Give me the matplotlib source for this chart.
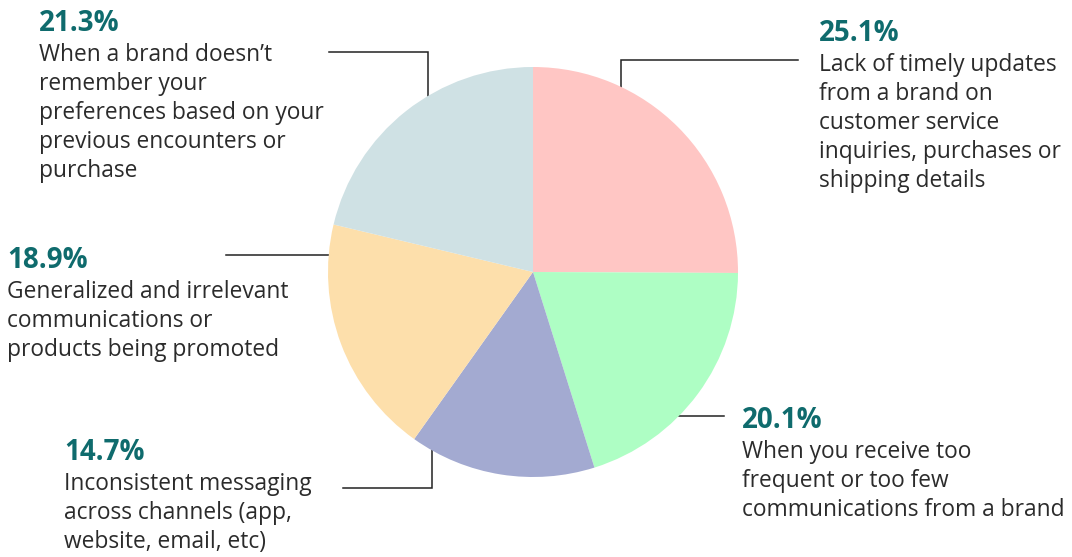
import numpy as np
import matplotlib.pyplot as plt

# Survey results: what frustrates customers most about brand communication
shares = [25.1, 20.1, 14.7, 18.9, 21.3]
pct_labels = ["25.1%", "20.1%", "14.7%", "18.9%", "21.3%"]
descriptions = [
    ["Lack of timely updates", "from a brand on", "customer service",
     "inquiries, purchases or", "shipping details"],
    ["When you receive too", "frequent or too few", "communications from a brand"],
    ["Inconsistent messaging", "across channels (app,", "website, email, etc)"],
    ["Generalized and irrelevant", "communications or", "products being promoted"],
    ["When a brand doesn\u2019t", "remember your", "preferences based on your",
     "previous encounters or", "purchase"],
]
colors = ["#ffc6c4", "#aefec4", "#a3aad1", "#fddfab", "#cfe1e4"]

W, H = 1072, 557
CX, CY, R = 533, 272, 205          # pie centre / radius in pixels (y from top)
TEAL = "#0f6b6d"
INK = "#2b2b2b"
FONT = "Open Sans"


def fy(y):
    # pixel row (from top) -> axes y (from bottom)
    return H - y


fig = plt.figure(figsize=(W / 100, H / 100), dpi=100)
ax = fig.add_axes([0, 0, 1, 1])

ax.pie(shares, colors=colors, startangle=90, counterclock=False,
       center=(CX, fy(CY)), radius=R, wedgeprops=dict(linewidth=0))
ax.set_xlim(0, W)
ax.set_ylim(0, H)
ax.set_aspect("auto")
ax.axis("off")

# text blocks: (left x, baseline of the percentage) in pixels
text_pos = [(820, 41), (743, 428), (65, 460), (8, 268), (40, 31)]
# leaders: (free end x, row y, elbow x or None)
leaders = [(798, 60, 621), (724, 416, None), (343, 488, 432),
           (226, 255, None), (329, 52, 428)]

for pct, lines, (tx, ty), (lx, ly, ex) in zip(pct_labels, descriptions, text_pos, leaders):
    ax.text(tx - 1, fy(ty), pct, fontsize=20, fontweight="bold", color=TEAL,
            family=FONT, va="baseline", ha="left")
    for i, line in enumerate(lines):
        ax.text(tx - 1, fy(ty + 30 + 29 * i), line, fontsize=16.4, color=INK,
                family=FONT, va="baseline", ha="left")

    if ex is None:
        # straight horizontal run into the rim
        dx = np.sqrt(R ** 2 - (ly - CY) ** 2)
        edge_x = CX - dx if lx < CX else CX + dx
        xs, ys = [lx, edge_x], [ly, ly]
    else:
        # horizontal run, then vertical drop onto the rim
        dy = np.sqrt(R ** 2 - (ex - CX) ** 2)
        edge_y = CY - dy if ly < CY else CY + dy
        xs, ys = [lx, ex, ex], [ly, ly, edge_y]
    ax.plot(xs, [fy(v) for v in ys], color="#222222", lw=1.1,
            solid_joinstyle="miter", zorder=0)

fig.savefig("out.png", dpi=100)
